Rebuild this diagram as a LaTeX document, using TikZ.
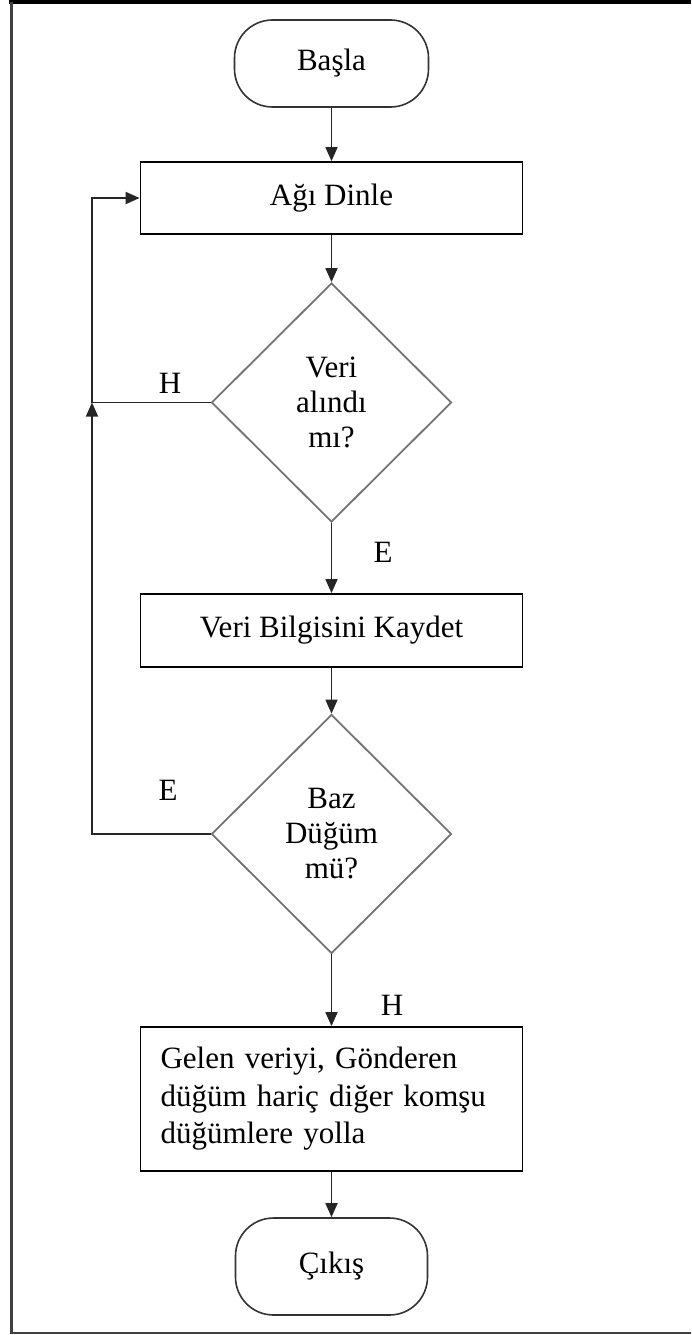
\documentclass[tikz,border=0pt]{standalone}
\usepackage{fontspec}
\setmainfont{Liberation Serif}
\usetikzlibrary{shapes.geometric,arrows.meta}
\begin{document}
\begin{tikzpicture}[x=1pt,y=-1pt,
  every node/.style={font=\fontsize{31}{35}\selectfont},
  term/.style={draw=black!80, line width=1.6pt, rounded corners=38pt, inner sep=0pt},
  proc/.style={draw=black, line width=1.8pt, inner sep=0pt, minimum width=382pt},
  decision/.style={diamond, draw=black!55, line width=1.8pt, inner sep=0pt,
    minimum width=240pt, minimum height=239pt, align=center},
  flow/.style={draw=black!85, line width=1.8pt, -{Triangle[length=14pt,width=12pt]}},
  lbl/.style={inner sep=0pt}
]
\useasboundingbox (0,0) rectangle (691,1335);

% page frame
\draw[line width=4pt] (9,2) -- (691,2);
\draw[black!75, line width=3pt] (11,2) -- (11,1334);
\draw[black!75, line width=2pt] (11,1333) -- (691,1333);

% flowchart nodes, all on one vertical axis
\node[term, minimum width=194pt, minimum height=87pt] (start) at (331.5,63.5) {Başla};
\node[proc, minimum height=72pt] (listen) at (331.5,198) {Ağı Dinle};
\node[decision] (got) at (331.5,402.5) {Veri\\alındı\\mı?};
\node[proc, minimum height=73pt] (save) at (331.5,630.5) {Veri Bilgisini Kaydet};
\node[decision] (base) at (331.5,834) {Baz\\Düğüm\\mü?};
\node[proc, minimum height=144pt, text width=342pt, inner xsep=20pt, align=left,
      font=\fontsize{31}{37.5}\selectfont] (fwd) at (331.5,1099)
      {Gelen veriyi, Gönderen düğüm hariç diğer komşu düğümlere yolla};
\node[term, minimum width=192pt, minimum height=97pt] (stop) at (331.5,1266.5) {Çıkış};

% loop corner points
\coordinate (jn) at (92,402.5);
\coordinate (jb) at (92,834);

% main flow
\draw[flow] (start) -- (listen);
\draw[flow] (listen) -- (got);
\draw[flow] (got) -- (save);
\draw[flow] (save) -- (base);
\draw[flow] (base) -- (fwd);
\draw[flow] (fwd) -- (stop);

% return loops
\draw[flow] (got.west) -- (jn) |- (listen.west);
\draw[flow] (base.west) -- (jb) -- (jn);

% branch labels
\node[lbl] (lh1) at (170,383) {H};
\node[lbl] (le1) at (383,552) {E};
\node[lbl] (le2) at (168,790) {E};
\node[lbl] (lh2) at (392,1005) {H};
\end{tikzpicture}
\end{document}
